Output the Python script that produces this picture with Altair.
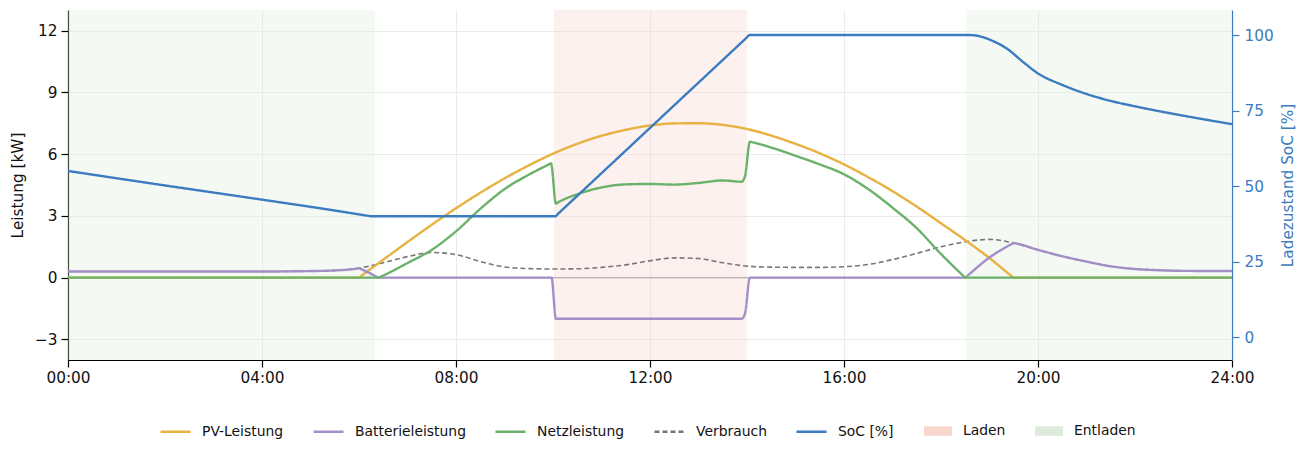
import altair as alt
import pandas as pd

# ---- data ----
pv_t = [0, 6.0, 6.05, 6.5, 7, 7.5, 8, 8.5, 9, 9.5, 10, 10.5, 11, 11.5, 12, 12.5, 13, 13.5, 14,
        14.5, 15, 15.5, 16, 16.5, 17, 17.5, 18, 18.5, 19, 19.45, 19.5, 24]
pv_v = [0, 0, 0.09, 0.87, 1.73, 2.57, 3.37, 4.12, 4.82, 5.45, 6.02, 6.5, 6.89, 7.18, 7.39, 7.49,
        7.5, 7.42, 7.22, 6.9, 6.5, 6.04, 5.5, 4.88, 4.2, 3.45, 2.64, 1.82, 0.95, 0.09, 0, 0]

bat_t = [0, 2, 4, 5, 5.5, 5.95, 6.0, 6.05, 6.35, 6.4, 9.97, 10.06, 13.89, 13.96, 14.06, 18.5,
         18.55, 19, 19.45, 19.5, 19.55, 20, 20.5, 21, 21.5, 22, 22.5, 23, 24]
bat_v = [0.3, 0.3, 0.3, 0.32, 0.35, 0.44, 0.46, 0.41, 0.06, 0, 0, -2.0, -2.0, -1.72, 0, 0,
         0.1, 0.98, 1.62, 1.68, 1.66, 1.35, 1.04, 0.78, 0.55, 0.42, 0.36, 0.33, 0.32]

grid_t = [0, 6.4, 6.45, 7, 7.5, 8, 8.5, 9, 9.5, 9.9, 9.96, 10.06, 10.12, 10.5, 11, 11.5, 12,
          12.5, 13, 13.5, 13.89, 13.96, 14.06, 14.12, 14.5, 15, 15.5, 16, 16.5, 17, 17.5, 18,
          18.45, 18.5, 24]
grid_v = [0, 0, 0.05, 0.71, 1.35, 2.25, 3.34, 4.3, 5.0, 5.48, 5.55, 3.6, 3.68, 4.05, 4.38, 4.53,
          4.55, 4.52, 4.6, 4.72, 4.66, 4.94, 6.6, 6.57, 6.32, 5.92, 5.5, 5.02, 4.3, 3.4, 2.4,
          1.15, 0.11, 0, 0]

cons_t = [0, 2, 4, 5, 5.5, 6, 6.5, 7, 7.5, 8, 8.5, 9, 9.5, 10, 10.5, 11, 11.5, 12, 12.5, 13, 13.5,
          14, 14.5, 15, 15.5, 16, 16.5, 17, 17.5, 18, 18.5, 19, 19.5, 20, 20.5, 21, 21.5, 22,
          22.5, 23, 24]
cons_v = [0.3, 0.3, 0.3, 0.32, 0.35, 0.46, 0.72, 1.02, 1.22, 1.12, 0.78, 0.52, 0.44, 0.42, 0.43,
          0.5, 0.62, 0.82, 0.96, 0.93, 0.72, 0.56, 0.51, 0.5, 0.5, 0.53, 0.64, 0.88, 1.18, 1.5,
          1.74, 1.86, 1.68, 1.35, 1.04, 0.78, 0.55, 0.42, 0.36, 0.33, 0.32]

soc_t = [0, 2, 4, 5.5, 6.2, 6.25, 10.05, 10.1, 14.0, 14.05, 18.6, 18.8, 19, 19.35, 19.7, 20,
         20.5, 21, 21.5, 22, 23, 24]
soc_v = [55, 50.2, 45.5, 41.9, 40.12, 40, 40, 40.75, 99.25, 100, 100, 99.6, 98.5, 95.6, 91,
         87.3, 83.5, 80.5, 78.2, 76.4, 73.3, 70.5]

phase_start = [0, 10.02, 18.52]
phase_end = [6.33, 14.0, 24]
phase_name = ["Entladen", "Laden", "Entladen"]

series_domain = ["PV-Leistung", "Batterieleistung", "Netzleistung", "Verbrauch", "SoC [%]"]
series_colors = ["#E8B140", "#A38FC6", "#6AB26A", "#777777", "#3B7BBF"]
series_dash = [[1, 0], [1, 0], [1, 0], [5, 3], [1, 0]]
phase_domain = ["Laden", "Entladen"]
phase_colors = ["#F7D6CD", "#DDECDA"]

x_ticks = [0, 4, 8, 12, 16, 20, 24]
y_ticks = [-3, 0, 3, 6, 9, 12]
soc_ticks = [0, 25, 50, 75, 100]

BLUE = "#3B7BBF"


def frame(name, t, v):
    return pd.DataFrame({"t": t, "v": v, "series": name})


kw_df = pd.concat([frame("PV-Leistung", pv_t, pv_v),
                   frame("Batterieleistung", bat_t, bat_v),
                   frame("Netzleistung", grid_t, grid_v)])
cons_df = frame("Verbrauch", cons_t, cons_v)
soc_df = frame("SoC [%]", soc_t, soc_v)
zero_df = pd.DataFrame({"t": [0, 24], "v": [0, 0]})
phase_df = pd.DataFrame({"start": phase_start, "end": phase_end, "phase": phase_name})

x_scale = alt.Scale(domain=[0, 24], nice=False, zero=False)
x_axis = alt.Axis(values=x_ticks, title=None, grid=True, tickSize=7, labelPadding=3,
                  labelFlush=False,
                  labelExpr="(datum.value < 10 ? '0' : '') + datum.value + ':00'",
                  domainColor="#000000", tickColor="#000000", domainWidth=1.2, tickWidth=1.2)
x_enc = alt.X("t:Q", scale=x_scale, axis=x_axis)

y_scale = alt.Scale(domain=[-4, 13], nice=False, zero=False)
y_axis = alt.Axis(values=y_ticks, title="Leistung [kW]", grid=True, tickSize=7, labelPadding=4,
                  titlePadding=9, labelFlush=False,
                  labelExpr="datum.value < 0 ? '\u2212' + abs(datum.value) : '' + datum.value",
                  domainColor="#000000", tickColor="#000000", domainWidth=1.2, tickWidth=1.2)
y_enc = alt.Y("v:Q", scale=y_scale, axis=y_axis)

line_legend = alt.Legend(orient="none", legendX=91, legendY=405, direction="horizontal",
                         title=None, symbolType="stroke", symbolSize=900, symbolStrokeWidth=2.5,
                         labelFontSize=13.9, labelOffset=10, columnPadding=24, padding=0)
color_enc = alt.Color("series:N", scale=alt.Scale(domain=series_domain, range=series_colors),
                      legend=line_legend)
dash_enc = alt.StrokeDash("series:N", scale=alt.Scale(domain=series_domain, range=series_dash),
                          legend=line_legend)

phase_legend = alt.Legend(orient="none", legendX=856, legendY=407, direction="horizontal",
                          title=None, symbolType="M-1,-0.34H1V0.34H-1Z", symbolSize=784,
                          symbolOpacity=1, symbolStrokeWidth=0, labelFontSize=13.9,
                          labelOffset=11, columnPadding=29, padding=0)

rects = alt.Chart(phase_df).mark_rect(opacity=0.33).encode(
    x=alt.X("start:Q", scale=x_scale, axis=x_axis),
    x2="end:Q",
    fill=alt.Fill("phase:N", scale=alt.Scale(domain=phase_domain, range=phase_colors),
                  legend=phase_legend),
)

zero_line = alt.Chart(zero_df).mark_line(color="#aaaaaa", strokeWidth=1).encode(x=x_enc, y=y_enc)

cons_line = alt.Chart(cons_df).mark_line(strokeWidth=1.6, interpolate="monotone").encode(
    x=x_enc, y=y_enc, color=color_enc, strokeDash=dash_enc)

kw_lines = alt.Chart(kw_df).mark_line(strokeWidth=2.4, interpolate="monotone").encode(
    x=x_enc, y=y_enc, color=color_enc, strokeDash=dash_enc, detail="series:N")

left = alt.layer(rects, zero_line, cons_line, kw_lines)

soc_axis = alt.Axis(orient="right", values=soc_ticks, title="Ladezustand SoC [%]", grid=False,
                    titleColor=BLUE, labelColor=BLUE, tickColor=BLUE, domainColor=BLUE,
                    titleAngle=270, titleBaseline="top", titlePadding=7, tickSize=7,
                    labelPadding=5, domainWidth=1.2, tickWidth=1.2, labelFlush=False)
soc_line = alt.Chart(soc_df).mark_line(strokeWidth=2.4, interpolate="monotone").encode(
    x=x_enc,
    y=alt.Y("v:Q", scale=alt.Scale(domain=[-7.6, 108.3], nice=False, zero=False), axis=soc_axis),
    color=color_enc, strokeDash=dash_enc,
)

chart = alt.layer(left, soc_line).resolve_scale(y="independent").properties(
    width=1164, height=350,
    autosize=alt.AutoSizeParams(type="none"),
    padding={"left": 60, "top": 2, "right": 70, "bottom": 85},
).configure(font="DejaVu Sans").configure_view(stroke=None).configure_axis(
    labelFontSize=15.3, titleFontSize=15.3, labelColor="#111111", titleColor="#111111",
    titleFontWeight="normal", gridColor="#e6e6e6", gridWidth=0.8,
).configure_legend(labelColor="#111111")

chart.save("out.html", embed_options={"renderer": "svg", "actions": False})
